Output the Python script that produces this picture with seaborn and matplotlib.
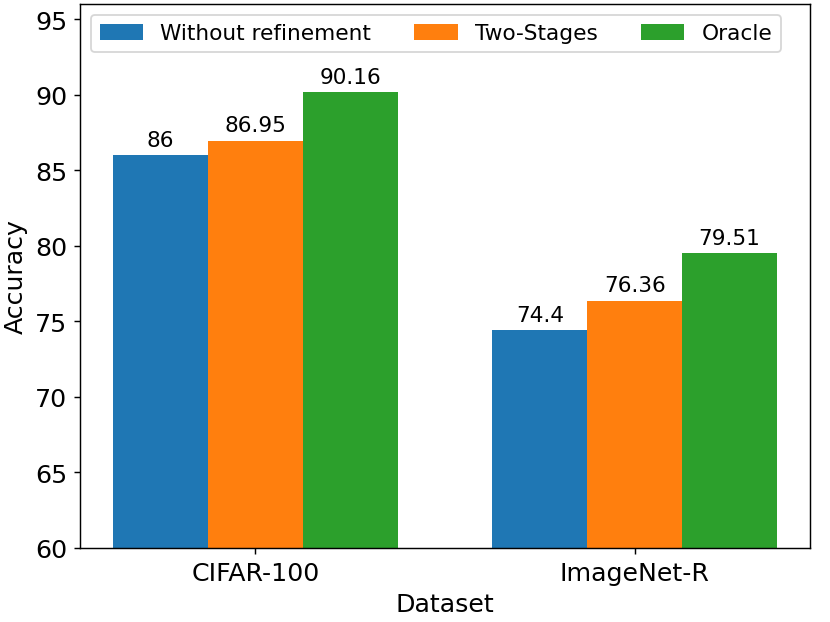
import matplotlib
matplotlib.use("Agg")
import matplotlib.pyplot as plt
import seaborn as sns
import pandas as pd

datasets = ["CIFAR-100", "ImageNet-R"]
methods = ["Without refinement", "Two-Stages", "Oracle"]
without_refinement = [86, 74.4]
two_stages = [86.95, 76.36]
oracle = [90.16, 79.51]
colors = ["#1f77b4", "#ff7f0e", "#2ca02c"]

rows = []
for m, vals in zip(methods, [without_refinement, two_stages, oracle]):
    for d, v in zip(datasets, vals):
        rows.append({"Dataset": d, "Method": m, "Accuracy": v})
df = pd.DataFrame(rows)

fig, ax = plt.subplots(figsize=(6.385, 4.792), dpi=130)
sns.barplot(data=df, x="Dataset", y="Accuracy", hue="Method", hue_order=methods,
            palette=colors, saturation=1, width=0.75, ax=ax, errorbar=None)
for c in ax.containers:
    ax.bar_label(c, labels=[f"{v:g}" for v in c.datavalues], fontsize=12, padding=3)
ax.set_ylim(60, 96)
ax.set_xlim(-0.4625, 1.4625)
ax.set_xlabel("Dataset", fontsize=14)
ax.set_ylabel("Accuracy", fontsize=14)
ax.tick_params(axis="both", labelsize=14)
ax.legend(loc="upper left", ncol=3, fontsize=12, title=None)
fig.subplots_adjust(left=0.0964, right=0.976, bottom=0.1188, top=0.992)
fig.savefig("out.png", dpi=130)
